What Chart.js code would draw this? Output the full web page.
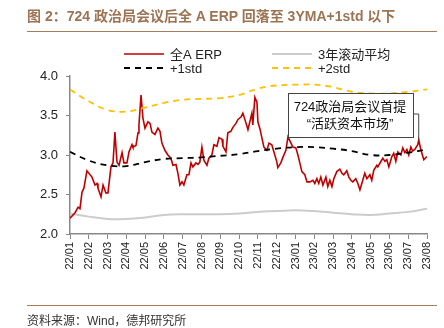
<!DOCTYPE html>
<html>
<head>
<meta charset="utf-8">
<script src="https://cdn.jsdelivr.net/npm/chart.js@4.4.0/dist/chart.umd.min.js"></script>
<style>
  body { margin: 0; background: #fff; }
  #wrap { position: relative; width: 444px; height: 328px; overflow: hidden; }
  #c { position: absolute; left: 0; top: 0; }
  .title { position: absolute; left: 27px; top: 5px; font: bold 14px "Liberation Sans", "Noto Sans CJK SC", sans-serif; color: #9c7453; white-space: nowrap; }
  .rule { position: absolute; left: 27px; width: 410px; height: 0; border-top: 1.5px solid #a57c5b; }
  .source { position: absolute; left: 27px; top: 311px; font: 12px "Liberation Sans", "Noto Sans CJK SC", sans-serif; color: #333; white-space: nowrap; }
</style>
</head>
<body>
<div id="wrap">
  <canvas id="c" width="444" height="328"></canvas>
  <div class="title">图 2：724 政治局会议后全 A ERP 回落至 3YMA+1std 以下</div>
  <div class="rule" style="top:31px"></div>
  <div class="rule" style="top:305px"></div>
  <div class="source">资料来源：Wind，德邦研究所</div>
</div>
<script>
// month tick labels (x = month index from 22/01)
var months = ['22/01', '22/02', '22/03', '22/04', '22/05', '22/06', '22/07', '22/08', '22/09', '22/10',
    '22/11', '22/12', '23/01', '23/02', '23/03', '23/04', '23/05', '23/06', '23/07', '23/08'];
var yTicks = [2.0, 2.5, 3.0, 3.5, 4.0];

// 全A ERP (x in months since 22/01)
var erpX = [0.00, 0.27, 0.43, 0.53, 0.64, 0.74, 0.90, 1.17, 1.33, 1.44, 1.49, 1.65, 1.76, 1.91, 2.02, 2.18, 2.29, 2.39, 2.50, 2.61,
    2.77, 2.87, 3.03, 3.14, 3.30, 3.35, 3.51, 3.62, 3.67, 3.78, 3.88, 3.99, 4.15, 4.26, 4.36, 4.52, 4.68, 4.79, 4.89, 5.05,
    5.21, 5.37, 5.48, 5.64, 5.74, 5.85, 5.96, 6.06, 6.22, 6.33, 6.44, 6.54, 6.70, 6.81, 6.91, 7.02, 7.13, 7.29, 7.39, 7.55,
    7.66, 7.82, 7.93, 8.09, 8.14, 8.30, 8.40, 8.56, 8.67, 8.83, 8.94, 9.10, 9.20, 9.36, 9.47, 9.57, 9.68, 9.73, 9.84, 9.95,
    10.00, 10.11, 10.21, 10.32, 10.48, 10.59, 10.74, 10.85, 11.01, 11.06, 11.22, 11.33, 11.49, 11.60, 11.76, 11.86, 12.02, 12.13, 12.23, 12.34,
    12.50, 12.61, 12.77, 12.93, 13.03, 13.14, 13.24, 13.35, 13.46, 13.62, 13.72, 13.83, 13.94, 14.04, 14.20, 14.36, 14.47, 14.57, 14.73, 14.84,
    14.95, 15.05, 15.21, 15.32, 15.43, 15.53, 15.69, 15.80, 15.96, 16.06, 16.17, 16.33, 16.38, 16.60, 16.65, 16.76, 16.86, 16.97, 17.13, 17.23,
    17.34, 17.45, 17.61, 17.71, 17.82, 17.93, 18.03, 18.14, 18.24, 18.35, 18.51, 18.56, 18.67, 18.78, 18.83, 18.99];
var erpY = [2.20, 2.27, 2.34, 2.32, 2.53, 2.58, 2.80, 2.72, 2.62, 2.64, 2.58, 2.47, 2.62, 2.52, 2.52, 2.85, 2.90, 3.29, 2.91, 2.87,
    3.03, 2.90, 2.90, 3.04, 3.13, 3.10, 3.12, 3.28, 3.38, 3.76, 3.47, 3.34, 3.42, 3.40, 3.29, 3.26, 3.34, 3.30, 3.15, 3.06,
    3.00, 2.96, 2.87, 2.88, 2.77, 2.62, 2.66, 2.62, 2.75, 2.75, 2.90, 2.85, 2.90, 2.88, 2.91, 3.10, 2.93, 2.87, 2.96, 3.00,
    3.13, 3.11, 3.22, 3.20, 3.11, 3.04, 3.28, 3.30, 3.35, 3.40, 3.45, 3.48, 3.53, 3.41, 3.32, 3.42, 3.53, 3.38, 3.73, 3.67,
    3.42, 3.33, 3.22, 3.10, 3.06, 3.15, 3.13, 3.04, 2.91, 2.84, 2.90, 2.97, 3.06, 3.23, 3.15, 3.10, 3.09, 3.00, 2.90, 2.79,
    2.75, 2.66, 2.66, 2.68, 2.64, 2.70, 2.64, 2.72, 2.62, 2.72, 2.60, 2.68, 2.60, 2.70, 2.79, 2.82, 2.77, 2.75, 2.80, 2.72,
    2.68, 2.66, 2.70, 2.64, 2.56, 2.64, 2.77, 2.70, 2.75, 2.68, 2.81, 2.87, 2.85, 2.94, 2.96, 2.92, 2.94, 2.85, 2.98, 3.02,
    2.92, 3.04, 3.00, 3.09, 3.03, 3.07, 3.00, 3.10, 3.05, 3.07, 3.13, 3.19, 3.07, 2.98, 2.94, 2.98];

// monthly values of the rolling lines
var ma3y = [2.26, 2.22, 2.19, 2.19, 2.21, 2.24, 2.25, 2.25, 2.25, 2.26, 2.28, 2.29, 2.30, 2.29, 2.27, 2.25, 2.24, 2.26, 2.28, 2.32];
var std1 = [3.04, 2.93, 2.87, 2.86, 2.91, 2.95, 2.96, 2.97, 2.99, 3.01, 3.05, 3.08, 3.10, 3.10, 3.08, 3.05, 3.00, 3.00, 3.03, 3.07];
var std2 = [3.83, 3.68, 3.57, 3.55, 3.60, 3.66, 3.70, 3.71, 3.72, 3.76, 3.84, 3.88, 3.89, 3.89, 3.86, 3.80, 3.78, 3.78, 3.80, 3.83];

var seriesNames = ['全A ERP', '3年滚动平均', '+1std', '+2std'];
var noteLines = ['724政治局会议首提', '“活跃资本市场”'];

function toXY(xs, ys) {
    var out = [];
    for (var i = 0; i < ys.length; i++) out.push({ x: xs ? xs[i] : i, y: ys[i] });
    return out;
}

var cjk = '"Liberation Sans", "Noto Sans CJK SC", sans-serif';

// legend + callout box drawn on the canvas
var extras = {
    id: 'extras',
    afterDraw: function (chart) {
        var ctx = chart.ctx;
        var sets = chart.data.datasets;
        var spots = [[124, 54, 0], [272, 54, 1], [124, 68, 2], [272, 68, 3]];
        ctx.save();
        ctx.font = '13px ' + cjk;
        ctx.textBaseline = 'middle';
        spots.forEach(function (s) {
            var ds = sets[s[2]];
            ctx.strokeStyle = ds.borderColor;
            ctx.lineWidth = ds.borderWidth;
            ctx.setLineDash(ds.borderDash || []);
            ctx.beginPath();
            ctx.moveTo(s[0], s[1]);
            ctx.lineTo(s[0] + 40, s[1]);
            ctx.stroke();
            ctx.setLineDash([]);
            ctx.fillStyle = '#222';
            ctx.fillText(seriesNames[s[2]], s[0] + 46, s[1] + 1);
        });

        // callout pointing at the late-July peak
        var xs = chart.scales.x, ys = chart.scales.y;
        var px = xs.getPixelForValue(18.56), py = ys.getPixelForValue(3.19);
        ctx.strokeStyle = '#444';
        ctx.lineWidth = 1;
        ctx.beginPath();
        ctx.moveTo(413, 114);
        ctx.lineTo(px, 114);
        ctx.lineTo(px, py);
        ctx.stroke();
        ctx.fillStyle = '#fff';
        ctx.fillRect(288, 93, 125, 44);
        ctx.strokeRect(288.5, 93.5, 125, 44);
        ctx.fillStyle = '#111';
        ctx.textAlign = 'center';
        ctx.font = '13px ' + cjk;
        ctx.fillText(noteLines[0], 350, 107);
        ctx.fillText(noteLines[1], 350, 124);
        ctx.restore();
    }
};

new Chart(document.getElementById('c'), {
    type: 'line',
    data: {
        datasets: [
            { label: seriesNames[0], data: toXY(erpX, erpY), borderColor: '#c00000', borderWidth: 1.6, tension: 0, order: 3 },
            { label: seriesNames[1], data: toXY(null, ma3y), borderColor: '#cccccc', borderWidth: 2, tension: 0.4, order: 4 },
            { label: seriesNames[2], data: toXY(null, std1), borderColor: '#000000', borderWidth: 1.8, borderDash: [6, 5], tension: 0.4, order: 1 },
            { label: seriesNames[3], data: toXY(null, std2), borderColor: '#ffc000', borderWidth: 1.8, borderDash: [6, 5], tension: 0.4, order: 2 }
        ]
    },
    options: {
        responsive: false,
        animation: false,
        parsing: true,
        elements: { point: { radius: 0 } },
        layout: { padding: { top: 76, right: 17, left: 0, bottom: 0 } },
        plugins: { legend: { display: false }, tooltip: { enabled: false } },
        scales: {
            x: {
                type: 'linear',
                min: 0,
                max: 19,
                afterFit: function (s) { s.height = 94; },
                grid: { drawOnChartArea: false, drawTicks: true, tickLength: 5, color: '#888' },
                border: { color: '#888', width: 1.5 },
                ticks: {
                    stepSize: 1, autoSkip: false, maxTicksLimit: 30, maxRotation: 90, minRotation: 90, padding: 3,
                    color: '#222', font: { family: 'Liberation Sans', size: 11 },
                    callback: function (v) { return months[v]; }
                }
            },
            y: {
                min: yTicks[0],
                max: yTicks[yTicks.length - 1],
                afterFit: function (s) { s.width = 70; },
                afterBuildTicks: function (s) { s.ticks = yTicks.map(function (v) { return { value: v }; }); },
                grid: { drawOnChartArea: false, drawTicks: true, tickLength: 4, color: '#888' },
                border: { color: '#888', width: 1.5 },
                ticks: {
                    padding: 8, color: '#222', font: { family: 'Liberation Sans', size: 13 },
                    callback: function (v) { return v.toFixed(1); }
                }
            }
        }
    },
    plugins: [extras]
});
</script>
</body>
</html>
